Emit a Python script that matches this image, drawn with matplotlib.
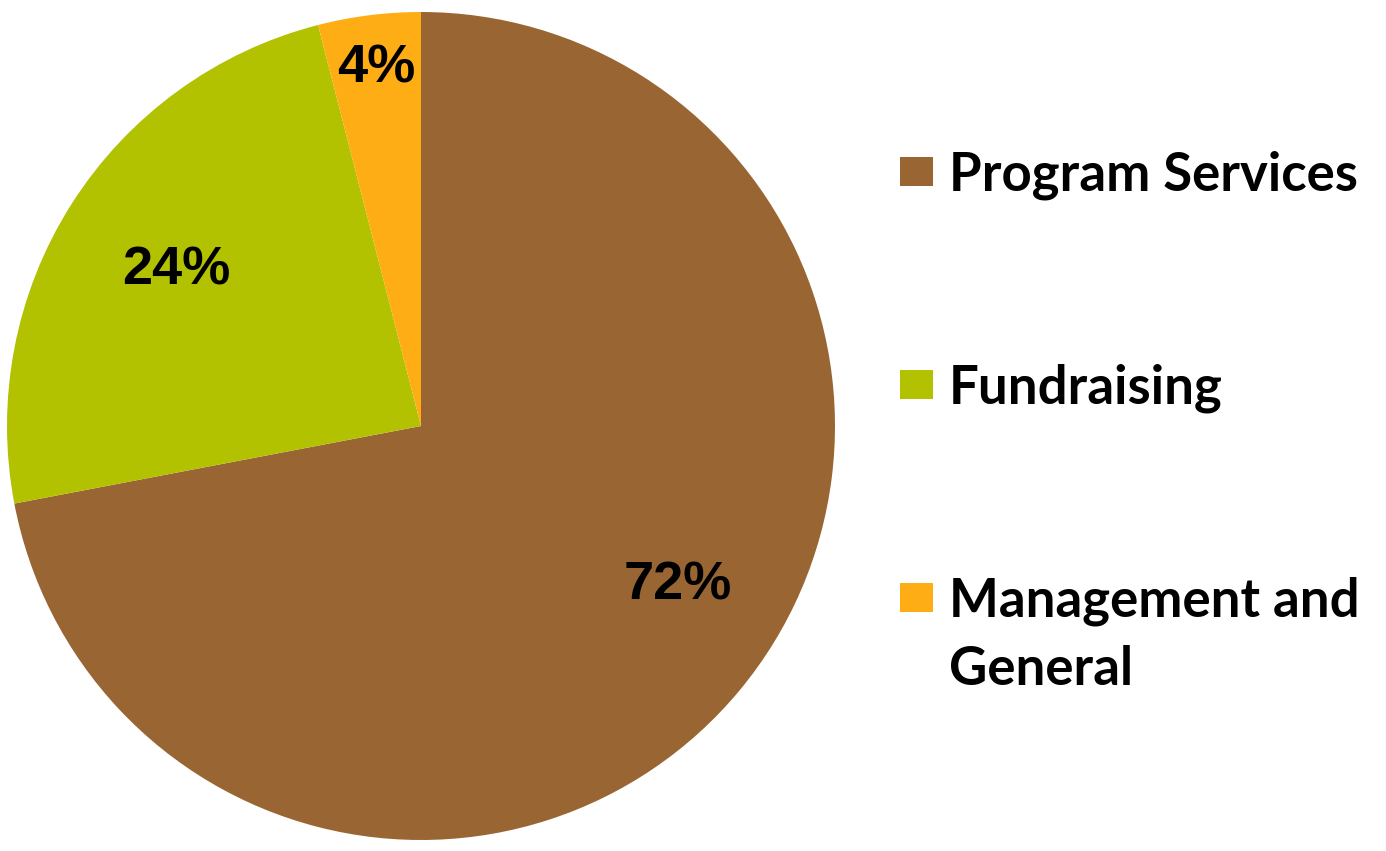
import matplotlib
matplotlib.use("Agg")
import matplotlib.pyplot as plt
from matplotlib.patches import Rectangle
import numpy as np

categories = ["Program Services", "Fundraising", "Management and\nGeneral"]
values = [72, 24, 4]
pct_labels = ["72%", "24%", "4%"]
colors = ["#996633", "#B2C100", "#FFAD14"]

W, H = 1386, 851
fig = plt.figure(figsize=(W / 100, H / 100), dpi=100)
cx, cy, r = 421, 426, 414
ax = fig.add_axes([(cx - r) / W, (H - cy - r) / H, 2 * r / W, 2 * r / H])
wedges, _ = ax.pie(values, colors=colors, startangle=90, counterclock=False,
                   radius=1, wedgeprops=dict(linewidth=0))
ax.set_xlim(-1, 1)
ax.set_ylim(-1, 1)
ax.set_aspect("equal")
ax.axis("off")

# label placement (fraction of radius, angle offset from mid-angle in degrees)
label_pos = [(0.73, 7.8), (0.70, 0.0), (0.87, 0.0)]
for w, txt, (d, off) in zip(wedges, pct_labels, label_pos):
    ang = np.deg2rad((w.theta1 + w.theta2) / 2 + off)
    ax.text(d * np.cos(ang), d * np.sin(ang), txt, ha="center", va="center",
            fontsize=39, fontweight="bold", family="Liberation Sans", color="black")

# manual legend
ys = [171, 384, 597]
for y, lab, c in zip(ys, categories, colors):
    fig.patches.append(Rectangle((900 / W, (H - y - 14.5) / H), 33 / W, 29 / H,
                                 transform=fig.transFigure, facecolor=c, edgecolor="none"))
    lines = lab.split("\n")
    for i, line in enumerate(lines):
        fig.text(949 / W, (H - y - 68 * i) / H, line, ha="left", va="center_baseline",
                 fontsize=38, fontweight="bold", family="Lato", color="black")

fig.savefig("out.png", dpi=100, facecolor="white")
